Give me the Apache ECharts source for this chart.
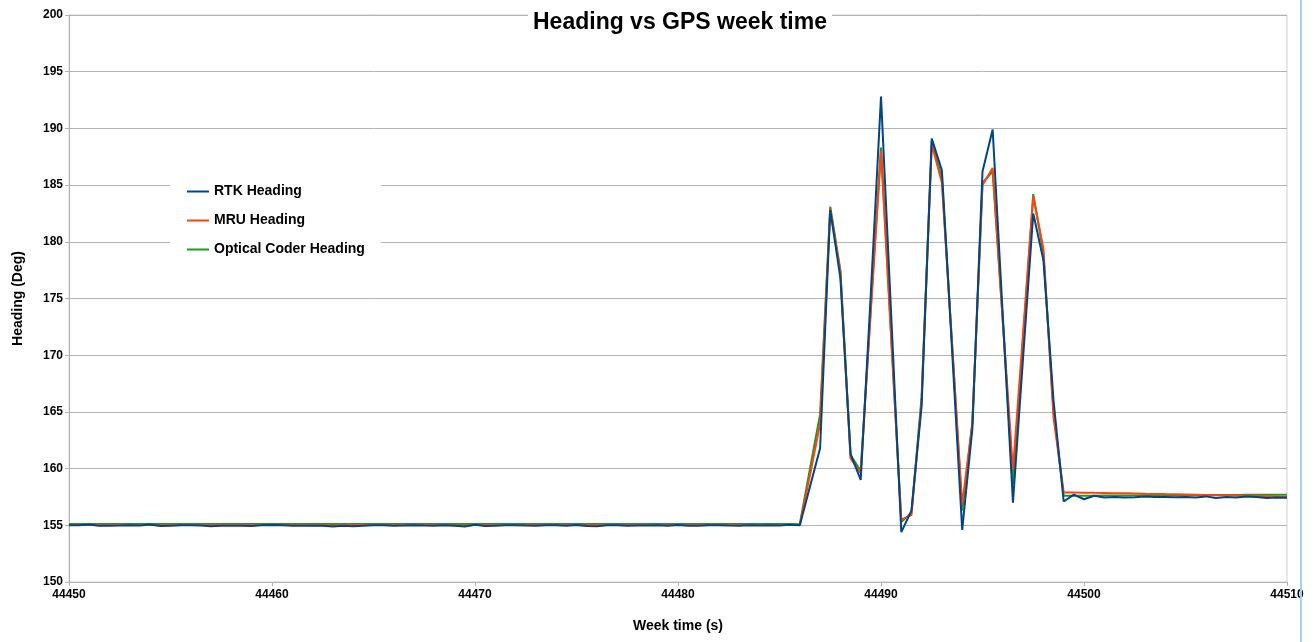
<!DOCTYPE html>
<html>
<head>
<meta charset="utf-8">
<script src="https://cdn.jsdelivr.net/npm/echarts@6/dist/echarts.min.js"></script>
<style>html,body{margin:0;padding:0;background:#fff;}#c{width:1313px;height:642px;}</style>
</head>
<body>
<div id="c"></div>
<script>
// Sample clock: 0.5 s steps from 44450 s
var startTime = 44450;
var stepTime = 0.5;

var titleText = 'Heading vs GPS week time';

var rtkHeading = [
155.0,155.0,155.08,154.95,154.97,154.98,155.0,154.98,155.07,154.93,
154.97,155.0,155.0,154.98,154.92,154.97,154.97,154.95,154.93,155.0,
155.03,155.0,154.96,154.95,154.97,154.95,154.9,154.95,154.92,154.95,
155.0,155.0,154.97,154.98,155.0,154.98,154.97,155.0,154.95,154.9,
155.05,154.93,154.97,155.0,155.0,154.98,154.97,155.0,155.0,154.95,
155.02,154.93,154.92,155.0,155.0,154.97,154.98,154.98,155.0,154.96,
155.02,154.95,154.96,155.0,155.0,154.98,154.97,155.0,154.98,155.0,
154.98,155.05,155.0,
158.4,161.8,182.8,176.8,161.3,159.0,175.5,192.8,173.6,154.4,
156.3,165.5,189.1,186.3,170.5,154.6,163.5,186.2,189.9,173.5,
157.0,169.8,182.5,178.4,166.0,157.1,157.7,
157.3,157.6,157.45,157.5,157.45,157.48,157.55,157.5,157.5,157.47,
157.5,157.45,157.55,157.4,157.5,157.45,157.55,157.5,157.4,157.45,157.42
];

var mruHeading = [
155.03,155.03,155.03,155.0,155.03,155.03,155.03,155.03,155.03,155.0,
155.03,155.03,155.03,155.03,155.0,155.03,155.03,155.03,155.03,155.03,
155.03,155.03,155.03,155.03,155.0,155.03,154.98,155.03,155.03,155.03,
155.03,155.03,155.03,155.03,155.03,155.03,155.03,155.03,155.0,154.98,
155.03,155.03,155.03,155.03,155.03,155.03,155.03,155.03,155.03,155.03,
155.03,155.0,155.03,155.03,155.03,155.03,155.03,155.03,155.03,155.03,
155.03,155.03,155.03,155.03,155.03,155.03,155.03,155.03,155.03,155.03,
155.03,155.03,155.03,
159.4,164.0,182.9,177.3,160.9,159.6,174.0,188.0,171.5,155.5,
155.9,166.0,188.6,185.2,171.0,156.8,164.0,185.0,186.5,173.0,
159.9,172.0,184.0,179.4,164.5,157.9,157.9,
157.88,157.86,157.85,157.83,157.82,157.8,157.78,157.77,157.75,157.74,
157.72,157.7,157.68,157.66,157.64,157.62,157.6,157.58,157.56,157.53,157.5
];

var opticalHeading = [
155.12,155.12,155.12,155.12,155.12,155.12,155.12,155.12,155.12,155.12,
155.12,155.12,155.12,155.12,155.12,155.12,155.12,155.12,155.12,155.12,
155.12,155.12,155.12,155.12,155.12,155.12,155.12,155.12,155.12,155.12,
155.12,155.12,155.12,155.12,155.12,155.12,155.12,155.12,155.12,155.12,
155.12,155.12,155.12,155.12,155.12,155.12,155.12,155.12,155.12,155.12,
155.12,155.12,155.12,155.12,155.12,155.12,155.12,155.12,155.12,155.12,
155.12,155.12,155.12,155.12,155.12,155.12,155.12,155.12,155.12,155.12,
155.12,155.12,155.1,
160.0,164.8,183.1,177.5,161.2,159.8,174.2,188.3,171.8,155.3,
156.1,166.3,188.9,185.6,171.0,156.3,164.0,185.2,186.2,173.0,
158.6,171.4,184.2,179.0,165.0,157.6,157.6,
157.6,157.61,157.62,157.62,157.63,157.63,157.64,157.64,157.65,157.65,
157.66,157.66,157.67,157.67,157.68,157.68,157.69,157.69,157.7,157.7,157.7
];

var xTicks = {min: 44450, max: 44510, interval: 10};
var yTicks = {min: 150, max: 200, interval: 5};

function pairs(vals) {
  return vals.map(function (v, i) { return [startTime + stepTime * i, v]; });
}

var chart = echarts.init(document.getElementById('c'), null, {renderer: 'canvas'});
var font = 'Liberation Sans';
chart.setOption({
  animation: false,
  backgroundColor: '#ffffff',
  textStyle: {fontFamily: font},
  legend: {
    data: ['RTK Heading', 'MRU Heading', 'Optical Coder Heading'],
    orient: 'vertical',
    left: 170,
    top: 177,
    padding: [6, 16, 6, 17],
    backgroundColor: '#ffffff',
    itemGap: 12,
    itemWidth: 22,
    itemHeight: 2,
    icon: 'rect',
    textStyle: {fontFamily: font, fontSize: 14, fontWeight: 'bold', color: '#000', lineHeight: 17}
  },
  grid: {
    left: 69, right: 26, top: 15, bottom: 60,
    show: true, borderColor: '#cfcfcf', borderWidth: 1,
    containLabel: false
  },
  xAxis: {
    type: 'value',
    min: xTicks.min, max: xTicks.max, interval: xTicks.interval,
    name: 'Week time (s)',
    nameLocation: 'middle',
    nameGap: 37,
    nameTextStyle: {fontFamily: font, fontSize: 14, fontWeight: 'bold', color: '#000'},
    axisLine: {show: true, lineStyle: {color: '#b3b3b3', width: 1}},
    axisTick: {show: true, length: 4, lineStyle: {color: '#b3b3b3'}},
    axisLabel: {fontFamily: font, fontSize: 12, fontWeight: 'bold', color: '#000', margin: 7,
      formatter: function (v) { return String(v); }},
    splitLine: {show: false}
  },
  yAxis: {
    type: 'value',
    min: yTicks.min, max: yTicks.max, interval: yTicks.interval,
    name: 'Heading (Deg)',
    nameLocation: 'middle',
    nameGap: 44,
    nameTextStyle: {fontFamily: font, fontSize: 14, fontWeight: 'bold', color: '#000'},
    axisLine: {show: true, lineStyle: {color: '#b3b3b3', width: 1}},
    axisTick: {show: true, length: 4, lineStyle: {color: '#b3b3b3'}},
    axisLabel: {fontFamily: font, fontSize: 12, fontWeight: 'bold', color: '#000', margin: 6},
    splitLine: {show: true, lineStyle: {color: '#b3b3b3', width: 1}}
  },
  graphic: [{
    type: 'text',
    left: 528,
    top: 10,
    z: 100,
    style: {
      text: titleText,
      font: 'bold 23px "Liberation Sans", Arial, sans-serif',
      fill: '#000',
      backgroundColor: '#ffffff',
      padding: [1, 5, 1, 5]
    }
  }, {
    type: 'rect',
    shape: {x: 1300, y: 0, width: 2, height: 642},
    style: {fill: '#a6cff7'},
    z: 100
  }],
  series: [
    {name: 'Optical Coder Heading', type: 'line', data: pairs(opticalHeading), symbol: 'none',
     lineStyle: {color: '#1f9a1f', width: 2}, itemStyle: {color: '#1f9a1f'}},
    {name: 'MRU Heading', type: 'line', data: pairs(mruHeading), symbol: 'none',
     lineStyle: {color: '#ff420e', width: 2}, itemStyle: {color: '#ff420e'}},
    {name: 'RTK Heading', type: 'line', data: pairs(rtkHeading), symbol: 'none',
     lineStyle: {color: '#004586', width: 2}, itemStyle: {color: '#004586'}}
  ]
});
</script>
</body>
</html>
